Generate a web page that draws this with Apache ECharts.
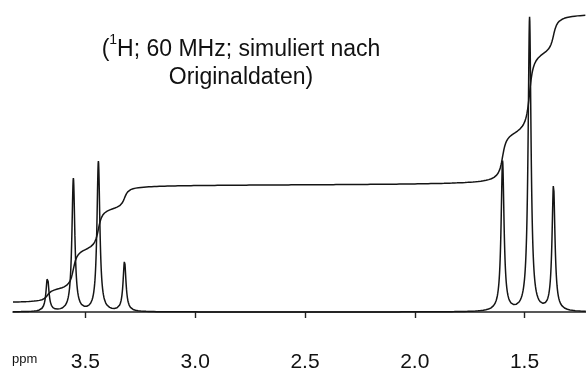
<!DOCTYPE html>
<html>
<head>
<meta charset="utf-8">
<script src="https://cdn.jsdelivr.net/npm/echarts@6/dist/echarts.min.js"></script>
<style>
  html, body { margin: 0; padding: 0; background: #ffffff; }
  #chart { width: 586px; height: 374px; }
</style>
</head>
<body>
<div id="chart"></div>
<script>
// Chemical shift window (ppm), drawn decreasing to the right
const shiftMax = 3.83;
const shiftMin = 1.22;
const tickValues = [3.5, 3.0, 2.5, 2.0, 1.5];

// Quartet (CH2) lines: positions in ppm and peak heights
const quartetShifts = [3.673, 3.555, 3.441, 3.322];
const quartetHeights = [34, 133, 150, 50];

// Triplet (CH3) lines: positions in ppm and peak heights
const tripletShifts = [1.600, 1.477, 1.368];
const tripletHeights = [150, 294, 126];

// Lorentzian half width at half height (ppm)
const lineHalfWidth = 0.008;

// Integral trace: starting level and the rise at each line
const integralStart = 8;
const quartetSteps = [12, 42, 43, 22];
const tripletSteps = [50, 85, 38];
const integralHalfWidth = 0.013;

const lineShifts = quartetShifts.concat(tripletShifts);
const lineHeights = quartetHeights.concat(tripletHeights);
const lineSteps = quartetSteps.concat(tripletSteps);

// Sample both traces across the window
const spectrum = [];
const integral = [];
const step = 0.001;
const samples = Math.round((shiftMax - shiftMin) / step);
for (let i = 0; i <= samples; i++) {
  const d = shiftMax - i * step;
  let s = 0;
  let g = integralStart;
  for (let k = 0; k < lineShifts.length; k++) {
    const u = (d - lineShifts[k]) / lineHalfWidth;
    s += lineHeights[k] / (1 + u * u);
    g += lineSteps[k] * (0.5 + Math.atan((lineShifts[k] - d) / integralHalfWidth) / Math.PI);
  }
  spectrum.push([d, s]);
  integral.push([d, g]);
}

const ink = '#151515';
const font = '"Liberation Sans", Arial, sans-serif';
const chart = echarts.init(document.getElementById('chart'), null, { renderer: 'canvas' });
chart.setOption({
  backgroundColor: '#ffffff',
  animation: false,
  grid: { left: 13, right: 0, top: 0, bottom: 38 },
  xAxis: {
    type: 'value',
    inverse: true,
    min: shiftMin,
    max: shiftMax,
    splitLine: { show: false },
    axisLine: { show: true, lineStyle: { color: '#222', width: 1.6 } },
    axisTick: { show: true, customValues: tickValues, length: 6, lineStyle: { color: '#222', width: 1.4 } },
    axisLabel: {
      customValues: tickValues,
      margin: 16,
      fontFamily: font,
      fontSize: 21,
      color: '#111',
      formatter: v => v.toFixed(1)
    }
  },
  yAxis: { type: 'value', min: -24, max: 312, show: false },
  series: [
    {
      type: 'line', data: spectrum, showSymbol: false, silent: true,
      lineStyle: { color: ink, width: 1.5 }
    },
    {
      type: 'line', data: integral, showSymbol: false, silent: true,
      lineStyle: { color: ink, width: 1.5 }
    }
  ],
  graphic: [
    {
      type: 'text', x: 12, y: 359,
      style: { text: 'ppm', fontFamily: font, fontSize: 13, fill: '#111', verticalAlign: 'middle' }
    },
    {
      type: 'text', x: 241, y: 50,
      style: {
        text: '({sup|1}H; 60 MHz; simuliert nach',
        fontFamily: font, fontSize: 23, fill: '#111',
        align: 'center', verticalAlign: 'middle', lineHeight: 34,
        rich: { sup: { fontSize: 14, verticalAlign: 'top', lineHeight: 16 } }
      }
    },
    {
      type: 'text', x: 241, y: 78,
      style: {
        text: 'Originaldaten)',
        fontFamily: font, fontSize: 23, fill: '#111',
        align: 'center', verticalAlign: 'middle'
      }
    }
  ]
});
</script>
</body>
</html>
